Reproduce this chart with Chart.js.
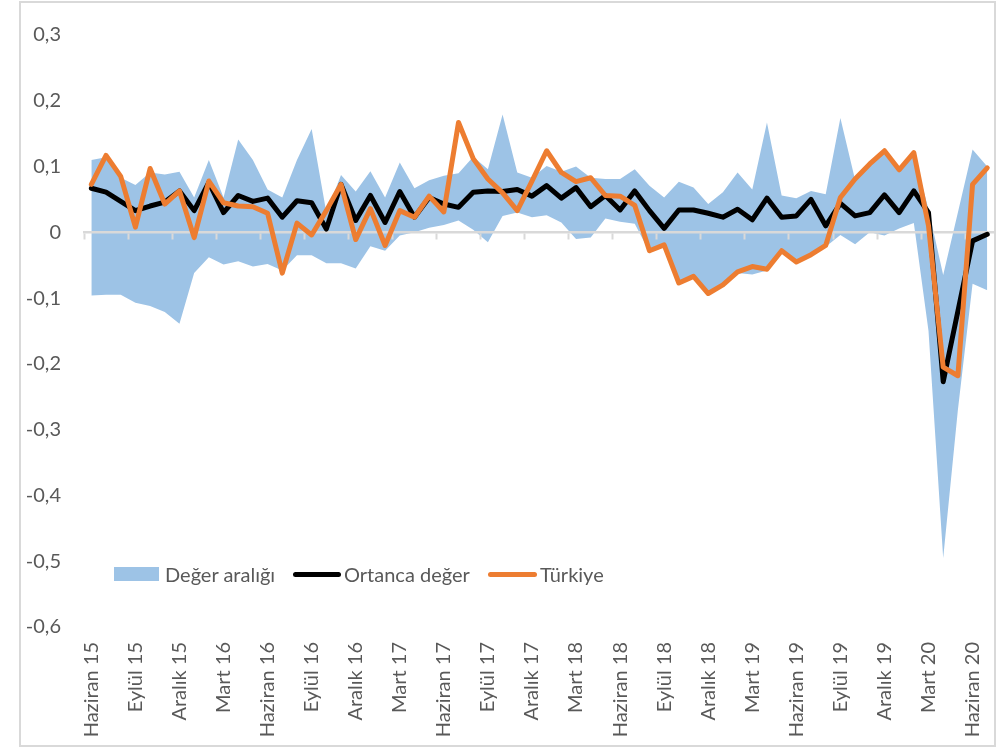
<!DOCTYPE html>
<html>
<head>
<meta charset="utf-8">
<script src="https://cdn.jsdelivr.net/npm/chart.js@4/dist/chart.umd.min.js"></script>
<style>
  html, body { margin: 0; padding: 0; background: #fff; }
  #wrap { position: relative; width: 1005px; height: 748px; overflow: hidden; }
  #frame { position: absolute; left: 19px; top: 1px; width: 977px; height: 746px; box-sizing: border-box; border: 2px solid #d9d9d9; }
  #c { position: absolute; left: 0; top: 0; }
  .lg { position: absolute; font-family: Lato, "Open Sans", sans-serif; font-size: 20px; line-height: 24px; color: #595959; white-space: nowrap; }
  .sw { position: absolute; }
</style>
</head>
<body>
<div id="wrap">
  <div id="frame"></div>
  <canvas id="c" width="1005" height="748"></canvas>
  <div id="legend"></div>
</div>
<script>
// ---- Data ----
const CATEGORIES = [
  "Haziran 15","Temmuz 15","Ağustos 15","Eylül 15","Ekim 15","Kasım 15","Aralık 15",
  "Ocak 16","Şubat 16","Mart 16","Nisan 16","Mayıs 16","Haziran 16","Temmuz 16","Ağustos 16","Eylül 16","Ekim 16","Kasım 16","Aralık 16",
  "Ocak 17","Şubat 17","Mart 17","Nisan 17","Mayıs 17","Haziran 17","Temmuz 17","Ağustos 17","Eylül 17","Ekim 17","Kasım 17","Aralık 17",
  "Ocak 18","Şubat 18","Mart 18","Nisan 18","Mayıs 18","Haziran 18","Temmuz 18","Ağustos 18","Eylül 18","Ekim 18","Kasım 18","Aralık 18",
  "Ocak 19","Şubat 19","Mart 19","Nisan 19","Mayıs 19","Haziran 19","Temmuz 19","Ağustos 19","Eylül 19","Ekim 19","Kasım 19","Aralık 19",
  "Ocak 20","Şubat 20","Mart 20","Nisan 20","Mayıs 20","Haziran 20","Temmuz 20"
];

const RANGE_MAX = [
  0.110, 0.114, 0.083, 0.072, 0.091, 0.088, 0.092,
  0.053, 0.110, 0.053, 0.141, 0.110, 0.065, 0.053, 0.110, 0.157, 0.030, 0.087, 0.062,
  0.093, 0.053, 0.106, 0.067, 0.079, 0.086, 0.090, 0.115, 0.096, 0.179, 0.091, 0.083,
  0.101, 0.092, 0.100, 0.083, 0.081, 0.081, 0.096, 0.071, 0.053, 0.077, 0.068, 0.043,
  0.061, 0.091, 0.065, 0.167, 0.056, 0.052, 0.063, 0.058, 0.174, 0.080, 0.102, 0.122,
  0.093, 0.120, 0.035, -0.065, 0.030, 0.126, 0.100
];

const RANGE_MIN = [
  -0.096, -0.095, -0.095, -0.107, -0.112, -0.121, -0.139,
  -0.062, -0.038, -0.049, -0.044, -0.052, -0.048, -0.058, -0.035, -0.035, -0.047, -0.047, -0.055,
  -0.021, -0.028, -0.005, 0.000, 0.007, 0.011, 0.018, 0.004, -0.015, 0.025, 0.030, 0.023,
  0.026, 0.015, -0.010, -0.008, 0.021, 0.016, 0.013, -0.030, -0.021, -0.079, -0.069, -0.095,
  -0.082, -0.062, -0.064, -0.058, -0.030, -0.047, -0.036, -0.022, -0.004, -0.018, 0.000, -0.005,
  0.006, 0.014, -0.150, -0.495, -0.270, -0.078, -0.088
];

const MEDIAN = [
  0.067, 0.061, 0.047, 0.033, 0.040, 0.046, 0.063,
  0.033, 0.076, 0.030, 0.056, 0.047, 0.052, 0.023, 0.048, 0.045, 0.005, 0.073, 0.018,
  0.056, 0.015, 0.062, 0.023, 0.053, 0.043, 0.038, 0.061, 0.063, 0.062, 0.065, 0.055,
  0.071, 0.052, 0.068, 0.039, 0.056, 0.034, 0.063, 0.033, 0.006, 0.034, 0.034, 0.029,
  0.023, 0.035, 0.019, 0.052, 0.023, 0.025, 0.050, 0.010, 0.044, 0.025, 0.030, 0.057,
  0.030, 0.063, 0.030, -0.227, -0.120, -0.013, -0.003
];

const TURKIYE = [
  0.073, 0.117, 0.085, 0.008, 0.097, 0.043, 0.063,
  -0.008, 0.078, 0.045, 0.040, 0.039, 0.029, -0.062, 0.014, -0.004, 0.033, 0.073, -0.011,
  0.036, -0.020, 0.033, 0.023, 0.055, 0.031, 0.167, 0.112, 0.081, 0.060, 0.033, 0.078,
  0.124, 0.091, 0.077, 0.083, 0.056, 0.055, 0.041, -0.028, -0.019, -0.077, -0.067, -0.093,
  -0.080, -0.060, -0.052, -0.056, -0.028, -0.045, -0.034, -0.020, 0.053, 0.081, 0.104, 0.124,
  0.095, 0.121, 0.010, -0.205, -0.218, 0.073, 0.098
];

const SERIES_NAMES = ["Değer aralığı", "Ortanca değer", "Türkiye"];
const Y_MIN = -0.6, Y_MAX = 0.3, Y_STEP = 0.1;
const LABEL_EVERY = 3;

// ---- Styles ----
const BLUE = "#9DC3E6", BLACK = "#000000", ORANGE = "#ED7D31", GRAY_TXT = "#595959", AXIS_GRAY = "#d9d9d9";
const FONT = { family: "Lato, 'Open Sans', sans-serif", size: 20 };

function fmtY(v) {
  if (Math.abs(v) < 1e-9) return "0";
  return v.toFixed(1).replace(".", ",");
}

const chart = new Chart(document.getElementById("c"), {
  type: "line",
  data: {
    labels: CATEGORIES,
    datasets: [
      { label: SERIES_NAMES[0], data: RANGE_MAX, fill: "+1", backgroundColor: BLUE, borderWidth: 0, pointRadius: 0, order: 3 },
      { label: "min", data: RANGE_MIN, fill: false, borderWidth: 0, pointRadius: 0, order: 4 },
      { label: SERIES_NAMES[1], data: MEDIAN, borderColor: BLACK, borderWidth: 5, pointRadius: 0, tension: 0,
        borderJoinStyle: "round", borderCapStyle: "round", fill: false, order: 1 },
      { label: SERIES_NAMES[2], data: TURKIYE, borderColor: ORANGE, borderWidth: 5, pointRadius: 0, tension: 0,
        borderJoinStyle: "round", borderCapStyle: "round", fill: false, order: 0 }
    ]
  },
  options: {
    responsive: false,
    animation: false,
    devicePixelRatio: 1,
    layout: { padding: { left: 0, top: 33, right: 10.4, bottom: 0 } },
    plugins: {
      legend: { display: false },
      tooltip: { enabled: false },
      filler: { drawTime: "beforeDraw" }
    },
    scales: {
      x: {
        type: "category",
        offset: true,
        grid: { display: false, drawTicks: false },
        border: { display: false },
        ticks: {
          autoSkip: false, minRotation: 90, maxRotation: 90, padding: 15,
          color: GRAY_TXT, font: FONT,
          callback: function (v, i) { return i % LABEL_EVERY === 0 ? this.getLabelForValue(v) : ""; }
        },
        afterFit: function (s) { s.height = 121; s.paddingLeft = 0; s.paddingRight = 0; }
      },
      x2: {
        type: "category",
        axis: "x",
        position: { y: 0 },
        offset: true,
        grid: {
          offset: true, drawOnChartArea: false, drawTicks: true, tickLength: 6, tickWidth: 2,
          color: (ctx) => (ctx.index % LABEL_EVERY === 0 ? AXIS_GRAY : "rgba(0,0,0,0)"),
          tickColor: (ctx) => (ctx.index % LABEL_EVERY === 0 ? AXIS_GRAY : "rgba(0,0,0,0)")
        },
        border: { display: true, color: AXIS_GRAY, width: 2.5 },
        ticks: { display: false, autoSkip: false }
      },
      y: {
        min: Y_MIN, max: Y_MAX,
        grid: { display: false, drawTicks: false },
        border: { display: false },
        ticks: { stepSize: Y_STEP, padding: 23, color: GRAY_TXT, font: FONT, callback: (v) => fmtY(v) },
        afterFit: function (s) { s.width = 84; }
      }
    }
  }
});

// ---- HTML legend built from the series names ----
(function buildLegend() {
  const lg = document.getElementById("legend");
  const items = [
    { name: SERIES_NAMES[0], kind: "box", color: BLUE, x: 114, w: 45 },
    { name: SERIES_NAMES[1], kind: "line", color: BLACK, x: 293, w: 48 },
    { name: SERIES_NAMES[2], kind: "line", color: ORANGE, x: 488, w: 49 }
  ];
  const cy = 574;
  items.forEach(it => {
    const sw = document.createElement("div");
    sw.className = "sw";
    if (it.kind === "box") {
      sw.style.cssText = `left:${it.x}px;top:${cy - 7}px;width:${it.w}px;height:14px;background:${it.color};`;
    } else {
      sw.style.cssText = `left:${it.x}px;top:${cy - 2.5}px;width:${it.w}px;height:5px;border-radius:2.5px;background:${it.color};`;
    }
    lg.appendChild(sw);
    const t = document.createElement("div");
    t.className = "lg";
    t.textContent = it.name;
    t.style.left = (it.x + it.w + (it.kind === "box" ? 6 : 3)) + "px";
    t.style.top = (cy - 12) + "px";
    lg.appendChild(t);
  });
})();
</script>
</body>
</html>
